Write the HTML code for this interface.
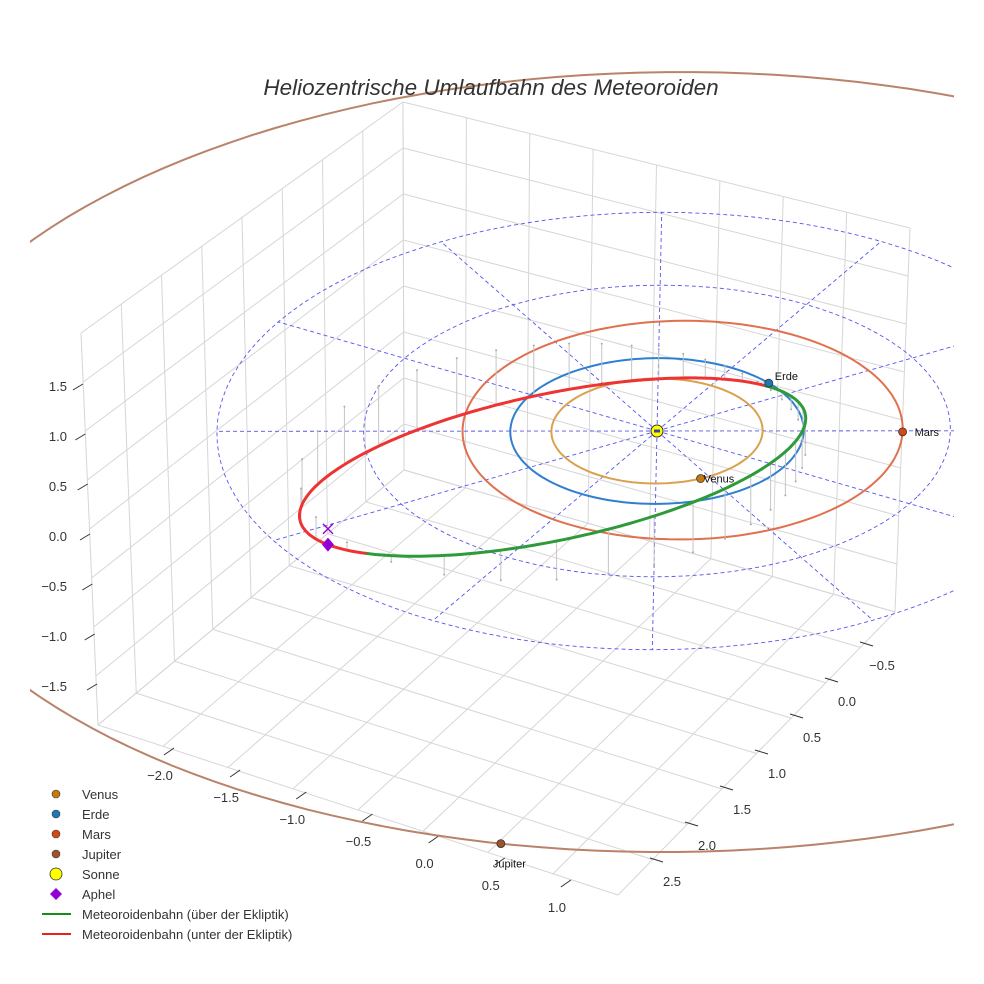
<!DOCTYPE html>
<html><head><meta charset="utf-8"><style>
html,body{margin:0;padding:0;background:#fff;}
svg{display:block;font-family:"Liberation Sans",sans-serif;}
</style></head><body>
<svg id="chart" width="984" height="984" viewBox="0 0 984 984" xmlns="http://www.w3.org/2000/svg">
<defs><clipPath id="plotclip"><rect x="30" y="0" width="924" height="984"/></clipPath></defs>
<rect width="984" height="984" fill="#fff"/>
<g id="grid"></g>
<g id="ticks"></g>
<g id="plot" clip-path="url(#plotclip)"></g>
<text x="491" y="95" text-anchor="middle" font-size="22.5" font-style="italic" fill="#333">Heliozentrische Umlaufbahn des Meteoroiden</text>
<g id="legend"></g>
</svg>
<script>
// ---- data ----
const planetNames = ["Venus","Erde","Mars","Jupiter"];
const planetRadii = [0.72, 1.0, 1.5, 5.35];
const planetAngles = [38, -68, -26, 75];      // degrees, ecliptic longitude in plot frame
const orbitOffsetX = [0, 0, 0.15, 0.29];      // orbit centre offsets (AU)
const orbitOffsetY = [0, 0, -0.09, 0.33];
const meteorPerihelion = [0.95];              // q (AU)
const meteorAphelion = [2.6];                 // Q (AU)
const meteorElements = [-58, -68, 20.5];      // perihelion longitude, node longitude, inclination (deg)
const gridRings = [1, 2, 3];
const gridSpokes = [-27, 3, 33, 63, 93, 123, 153, 183, 213, 243, 273, 303];
const zTickValues = [1.5, 1.0, 0.5, 0.0, -0.5, -1.0, -1.5];
const xTickValues = [-2.0, -1.5, -1.0, -0.5, 0.0, 0.5, 1.0];
const yTickValues = [-0.5, 0.0, 0.5, 1.0, 1.5, 2.0, 2.5];

// ---- styles ----
const orbitColors = ["#d9a24e","#2f7fd0","#e0704e","#b8836a"];
const planetColors = ["#c9780e","#1f77b4","#d24a10","#a0522d"];
const NS = "http://www.w3.org/2000/svg";
function mk(tag, attrs, parent){const e=document.createElementNS(NS,tag);for(const k in attrs)e.setAttribute(k,attrs[k]);parent.appendChild(e);return e;}
function proj(x,y,z){return [657+130*x-68*y, 431+33*x+65*y-100*z];}
const fmt = v => (v<0?"\u2212":"")+Math.abs(v).toFixed(1);

// ---- box grid ----
const grid=document.getElementById('grid');
const Lt=[81,333],Lb=[98,725],Bt=[403,102],Bb=[404,470],Rt=[910,228],Rb=[895,612],F=[618,895];
function bil(p00,p10,p01,p11,u,v){return [(1-u)*(1-v)*p00[0]+u*(1-v)*p10[0]+(1-u)*v*p01[0]+u*v*p11[0],(1-u)*(1-v)*p00[1]+u*(1-v)*p10[1]+(1-u)*v*p01[1]+u*v*p11[1]];}
function quadGrid(p00,p10,p01,p11,n,name){
  for(let k=0;k<=n;k++){const t=k/n;
    let a=bil(p00,p10,p01,p11,t,0),b=bil(p00,p10,p01,p11,t,1);
    let l=mk('line',{x1:a[0],y1:a[1],x2:b[0],y2:b[1],stroke:'#d6d6d6','stroke-width':1},grid);
    
    
    a=bil(p00,p10,p01,p11,0,t);b=bil(p00,p10,p01,p11,1,t);
    l=mk('line',{x1:a[0],y1:a[1],x2:b[0],y2:b[1],stroke:'#d6d6d6','stroke-width':1},grid);
    
    
  }
}
quadGrid(Bb,Lb,Bt,Lt,8,'left-wall');
quadGrid(Bb,Rb,Bt,Rt,8,'back-wall');
quadGrid(Bb,Rb,Lb,F,8,'floor');

// ---- ticks ----
const ticks=document.getElementById('ticks');
zTickValues.forEach(v=>{
  const y=537-v*100, tx=85-v*4.7;
  let l=mk('line',{x1:tx-5,y1:y+3,x2:tx+5,y2:y-3,stroke:'#333','stroke-width':1},ticks);
  
  
  let t=mk('text',{x:67,y:y+4,'text-anchor':'end','font-size':13,fill:'#333'},ticks);t.textContent=fmt(v);
  
  
});
xTickValues.forEach(v=>{
  const lx=160+(v+2)*132.3, ly=776+(v+2)*44;
  let l=mk('line',{x1:lx+4,y1:ly-21,x2:lx+14,y2:ly-28,stroke:'#333','stroke-width':1},ticks);
  
  
  let t=mk('text',{x:lx,y:ly+4,'text-anchor':'middle','font-size':13,fill:'#333'},ticks);t.textContent=fmt(v);
  
  
});
yTickValues.forEach(v=>{
  const lx=882-(v+0.5)*70, ly=666+(v+0.5)*72;
  let l=mk('line',{x1:lx-22,y1:ly-24,x2:lx-9,y2:ly-20,stroke:'#333','stroke-width':1},ticks);
  
  
  let t=mk('text',{x:lx,y:ly+4,'text-anchor':'middle','font-size':13,fill:'#333'},ticks);t.textContent=fmt(v);
  
  
});

// ---- plot ----
const plot=document.getElementById('plot');
const D=Math.PI/180;
function pathFrom(pts){return pts.map((p,i)=>(i?'L':'M')+p[0].toFixed(1)+' '+p[1].toFixed(1)).join(' ');}
gridRings.forEach(r=>{
  const pts=[];for(let a=0;a<=360;a+=3)pts.push(proj(r*Math.cos(a*D),r*Math.sin(a*D),0));
  const p=mk('path',{d:pathFrom(pts),fill:'none',stroke:'#5555ee','stroke-width':0.9,'stroke-dasharray':'4 3'},plot);
  
  
});
const rMax=Math.max(...gridRings);
gridSpokes.forEach(a=>{
  const e=proj(rMax*Math.cos(a*D),rMax*Math.sin(a*D),0),o=proj(0,0,0);
  const l=mk('line',{x1:o[0],y1:o[1],x2:e[0],y2:e[1],stroke:'#5555ee','stroke-width':0.9,'stroke-dasharray':'4 3'},plot);
  
  
});
planetNames.forEach((n,i)=>{
  const pts=[];for(let a=0;a<=360;a+=2)pts.push(proj(orbitOffsetX[i]+planetRadii[i]*Math.cos(a*D),orbitOffsetY[i]+planetRadii[i]*Math.sin(a*D),0));
  const p=mk('path',{d:pathFrom(pts),fill:'none',stroke:orbitColors[i],'stroke-width':2},plot);
  
  
});
const q=meteorPerihelion[0],Q=meteorAphelion[0];
const ae=(q+Q)/2, ecc=(Q-q)/(Q+q), pp=ae*(1-ecc*ecc);
const varpi=meteorElements[0]*D, node=meteorElements[1]*D, inc=meteorElements[2]*D;
function met(phi){const r=pp/(1+ecc*Math.cos(phi-varpi));return [r*Math.cos(phi),r*Math.sin(phi),r*Math.sin(inc)*Math.sin(phi-node)];}
for(let a=0;a<360;a+=9){
  const m=met(a*D),top=proj(m[0],m[1],m[2]),bot=proj(m[0],m[1],0);
  const l=mk('line',{x1:top[0],y1:top[1],x2:bot[0],y2:bot[1],stroke:'#c4c4c4','stroke-width':1},plot);
  
  
  const c=mk('circle',{cx:bot[0],cy:bot[1],r:1,fill:'#aaa'},plot);
  
  
}
let seg=[],sign=null;
function flush(){if(seg.length>1){const p=mk('path',{d:pathFrom(seg),fill:'none',stroke:sign>0?'#2e9a3a':'#ee3333','stroke-width':3,'stroke-linecap':'round'},plot);
  
  }}
for(let a=0;a<=360;a+=1){const m=met(a*D),s=m[2]>=0?1:-1,pt=proj(m[0],m[1],m[2]);
  if(sign!==null&&s!==sign){seg.push(pt);flush();seg=[pt];}else seg.push(pt);sign=s;}
flush();
const aph=met(varpi+Math.PI),ap=proj(aph[0],aph[1],aph[2]),ap0=proj(aph[0],aph[1],0);
let xm=mk('path',{d:`M${ap0[0]-5} ${ap0[1]-5}L${ap0[0]+5} ${ap0[1]+5}M${ap0[0]+5} ${ap0[1]-5}L${ap0[0]-5} ${ap0[1]+5}`,stroke:'#9400d3','stroke-width':1.3},plot);


let dm=mk('path',{d:`M${ap[0]} ${ap[1]-7}L${ap[0]+6} ${ap[1]}L${ap[0]} ${ap[1]+7}L${ap[0]-6} ${ap[1]}Z`,fill:'#9400d3'},plot);


const so=proj(0,0,0);
let sc=mk('circle',{cx:so[0],cy:so[1],r:6,fill:'#ffff00',stroke:'#333','stroke-width':1},plot);


let sd=mk('rect',{x:so[0]-3,y:so[1]-1.5,width:6,height:3,fill:'#3344aa'},plot);


const labelDX=[3,6,12,-8],labelDY=[4,-3,4,24];
planetNames.forEach((n,i)=>{
  const r=planetRadii[i],a=planetAngles[i]*D;
  const p=proj(orbitOffsetX[i]+r*Math.cos(a),orbitOffsetY[i]+r*Math.sin(a),0);
  const c=mk('circle',{cx:p[0],cy:p[1],r:4,fill:planetColors[i],stroke:'#333','stroke-width':0.8},plot);
  
  
  const t=mk('text',{x:p[0]+labelDX[i],y:p[1]+labelDY[i],'font-size':11,fill:'#111'},plot);t.textContent=n;
  
  
});

// ---- legend ----
const lg=document.getElementById('legend');
const legendLabels=["Venus","Erde","Mars","Jupiter","Sonne","Aphel","Meteoroidenbahn (über der Ekliptik)","Meteoroidenbahn (unter der Ekliptik)"];
legendLabels.forEach((lab,i)=>{
  const y=794+i*20;let m;
  if(i<4){m=mk('circle',{cx:56,cy:y,r:4,fill:planetColors[i],stroke:'#333','stroke-width':0.6},lg);}
  else if(i===4){m=mk('circle',{cx:56,cy:y,r:6,fill:'#ffff00',stroke:'#333','stroke-width':0.8},lg);}
  else if(i===5){m=mk('path',{d:`M56 ${y-6}L62 ${y}L56 ${y+6}L50 ${y}Z`,fill:'#9400d3'},lg);}
  else{m=mk('line',{x1:42,y1:y,x2:71,y2:y,stroke:i===6?'#1a8a1a':'#e82020','stroke-width':2},lg);}
  
  
  const t=mk('text',{x:82,y:y+5,'font-size':13,fill:'#333'},lg);t.textContent=lab;
  
  
});
</script>
</body></html>
